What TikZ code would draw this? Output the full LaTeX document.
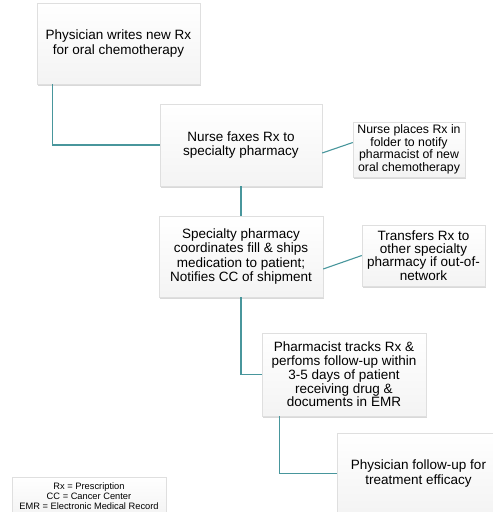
\documentclass[tikz,border=0pt]{standalone}
\usepackage{fontspec}
\setmainfont{Liberation Sans}
\usetikzlibrary{shadows}
\definecolor{linkteal}{RGB}{72,150,156}
\begin{document}
\begin{tikzpicture}[x=1pt,y=-1pt,
        stepbox/.style={draw=gray!25, line width=0.4pt, top color=white, bottom color=gray!9,
            drop shadow={shadow xshift=1.2pt,shadow yshift=-1.6pt,opacity=0.3},
            align=center, inner sep=2pt, font=\fontsize{13.5}{14.5}\selectfont},
        notebox/.style={stepbox, font=\fontsize{12.3}{12.6}\selectfont},
        link/.style={draw=linkteal, line width=1.1pt}]
    \useasboundingbox (0,0) rectangle (493,512);
    \node[stepbox, minimum width=163pt, minimum height=81pt] (phys) at (118.5,43.5) {Physician writes new Rx\\for oral chemotherapy};
    \node[stepbox, minimum width=162pt, minimum height=82pt] (nurse) at (241,145) {Nurse faxes Rx to\\specialty pharmacy};
    \node[notebox, minimum width=112pt, minimum height=55pt] (folder) at (409,149.5) {Nurse places Rx in\\folder to notify\\pharmacist of new\\oral chemotherapy};
    \node[stepbox, minimum width=164pt, minimum height=81pt] (spec) at (241,256.5) {Specialty pharmacy\\coordinates fill \& ships\\medication to patient;\\Notifies CC of shipment};
    \node[stepbox, font=\fontsize{13.5}{13.3}\selectfont, minimum width=123pt, minimum height=61pt] (transfer) at (423.5,255.5) {Transfers Rx to\\other specialty\\pharmacy if out-of-\\network};
    \node[stepbox, font=\fontsize{13.5}{13.8}\selectfont, minimum width=164pt, minimum height=83pt] (track) at (344,374.5) {Pharmacist tracks Rx \&\\perfoms follow-up within\\3-5 days of patient\\receiving drug \&\\documents in EMR};
    \node[stepbox, minimum width=163pt, minimum height=81pt] (followup) at (418.5,473.5) {Physician follow-up for\\treatment efficacy};
    \node[stepbox, font=\fontsize{9.3}{10}\selectfont, minimum width=154pt, minimum height=38pt] (legend) at (89,496) {Rx = Prescription\\CC = Cancer Center\\EMR = Electronic Medical Record};
    \draw[link] ([xshift=16pt]phys.south west) |- (nurse.west);
    \draw[link] (nurse.south) -- (spec.north);
    \draw[link] ([yshift=-8pt]nurse.east) -- ([yshift=7pt]folder.west);
    \draw[link] ([yshift=-12.5pt]spec.east) -- (transfer.west);
    \draw[link] (spec.south) |- (track.west);
    \draw[link] ([xshift=18pt]track.south west) |- (followup.west);
\end{tikzpicture}
\end{document}
